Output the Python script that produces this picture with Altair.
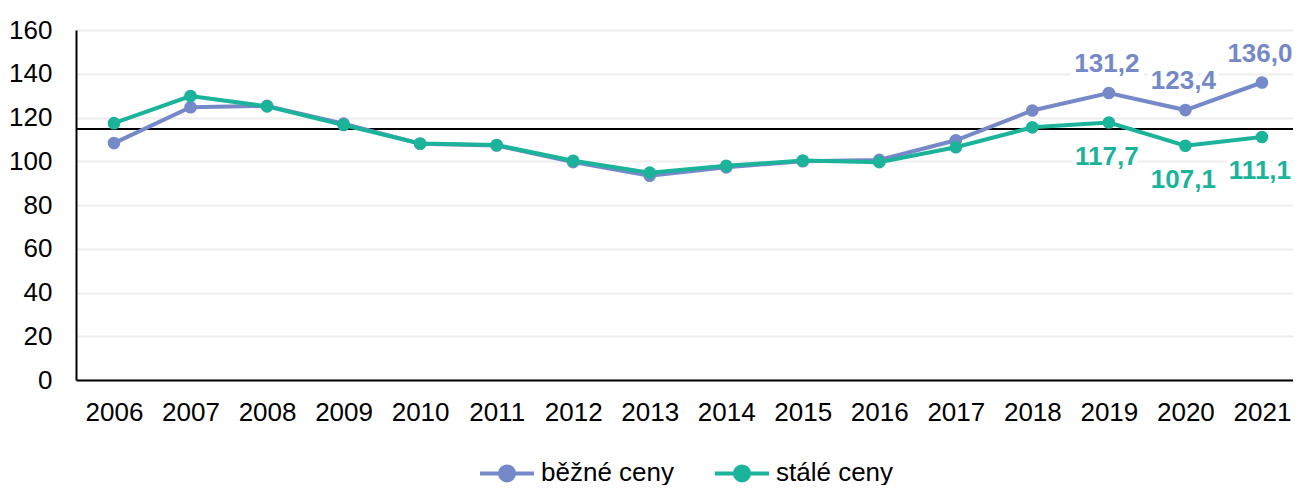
import altair as alt
import pandas as pd

years = list(range(2006, 2022))
bezne = [108.3, 124.7, 125.3, 117.2, 108.0, 107.2, 99.6, 93.4, 97.2, 100.0, 100.6, 109.6, 123.2, 131.2, 123.4, 136.0]
stale = [117.4, 129.8, 125.1, 116.6, 108.1, 107.4, 100.2, 94.8, 97.9, 100.3, 99.6, 106.4, 115.5, 117.7, 107.1, 111.1]
series_names = ["běžné ceny", "stálé ceny"]
colors = ["#7589C9", "#1BB39A"]
ref_value = 114.7
label_years = [2019, 2020, 2021]

rows = []
for name, vals in zip(series_names, [bezne, stale]):
    for y, v in zip(years, vals):
        rows.append({"rok": y, "serie": name, "hodnota": v,
                     "label": f"{v:.1f}".replace(".", ",") if y in label_years else ""})
df = pd.DataFrame(rows)

FONT = "Liberation Sans"
FS = 26
xscale = alt.Scale(domain=[2005.5035, 2021.406], nice=False, zero=False)
yscale = alt.Scale(domain=[0, 160], nice=False)
cscale = alt.Scale(domain=series_names, range=colors)

sym = "M-1,0H1M0.26,0A0.26,0.26 0 1,1 -0.26,0A0.26,0.26 0 1,1 0.26,0Z"

base = alt.Chart(df).encode(
    x=alt.X("rok:Q", scale=xscale,
            axis=alt.Axis(values=years, format="d", title=None, grid=False, ticks=False,
                          labelFontSize=FS, labelFont=FONT, labelColor="#000",
                          labelPadding=19, domainColor="#000", domainWidth=2,
                          labelFlush=False, labelOverlap=False)),
    y=alt.Y("hodnota:Q", scale=yscale,
            axis=alt.Axis(values=list(range(0, 161, 20)), title=None, ticks=False,
                          labelFontSize=FS, labelFont=FONT, labelColor="#000",
                          labelPadding=24, domainColor="#000", domainWidth=2,
                          gridColor="#EDEDED", gridWidth=2)),
    color=alt.Color("serie:N", scale=cscale, sort=series_names,
                    legend=alt.Legend(title=None, orient="none", direction="horizontal",
                                      legendX=402, legendY=414,
                                      symbolType=sym, symbolSize=2916, symbolStrokeWidth=4,
                                      labelFontSize=FS, labelFont=FONT, labelColor="#000",
                                      labelOffset=5, columnPadding=33, symbolOffset=0)),
)

lines = base.mark_line(strokeWidth=4)
points = base.mark_point(size=160, opacity=1, filled=True)

refdf = pd.DataFrame({"v": [ref_value]})
ref = alt.Chart(refdf).mark_rule(color="#000", strokeWidth=2).encode(
    y=alt.Y("v:Q", scale=yscale))

def labels(name, color, dy):
    sub = df[(df.serie == name) & (df.label != "")]
    enc = dict(x=alt.X("rok:Q", scale=xscale), y=alt.Y("hodnota:Q", scale=yscale), text="label:N")
    halo = alt.Chart(sub).mark_text(fontSize=FS, fontWeight="bold", font=FONT, dy=dy, dx=-2,
                                    color="white", stroke="white", strokeWidth=10).encode(**enc)
    txt = alt.Chart(sub).mark_text(fontSize=FS, fontWeight="bold", font=FONT, dy=dy, dx=-2,
                                   color=color).encode(**enc)
    return halo, txt

hb, tb = labels(series_names[0], colors[0], -29)
hs, ts = labels(series_names[1], colors[1], 34)

chart = alt.layer(ref, lines, points, hb, hs, tb, ts).properties(
    width=1217, height=350,
    autosize=alt.AutoSizeParams(type="none"),
    padding={"left": 68, "top": 22, "right": 0, "bottom": 105},
).configure_view(stroke=None)

chart.save("out.html", embed_options={"renderer": "svg", "actions": False})
